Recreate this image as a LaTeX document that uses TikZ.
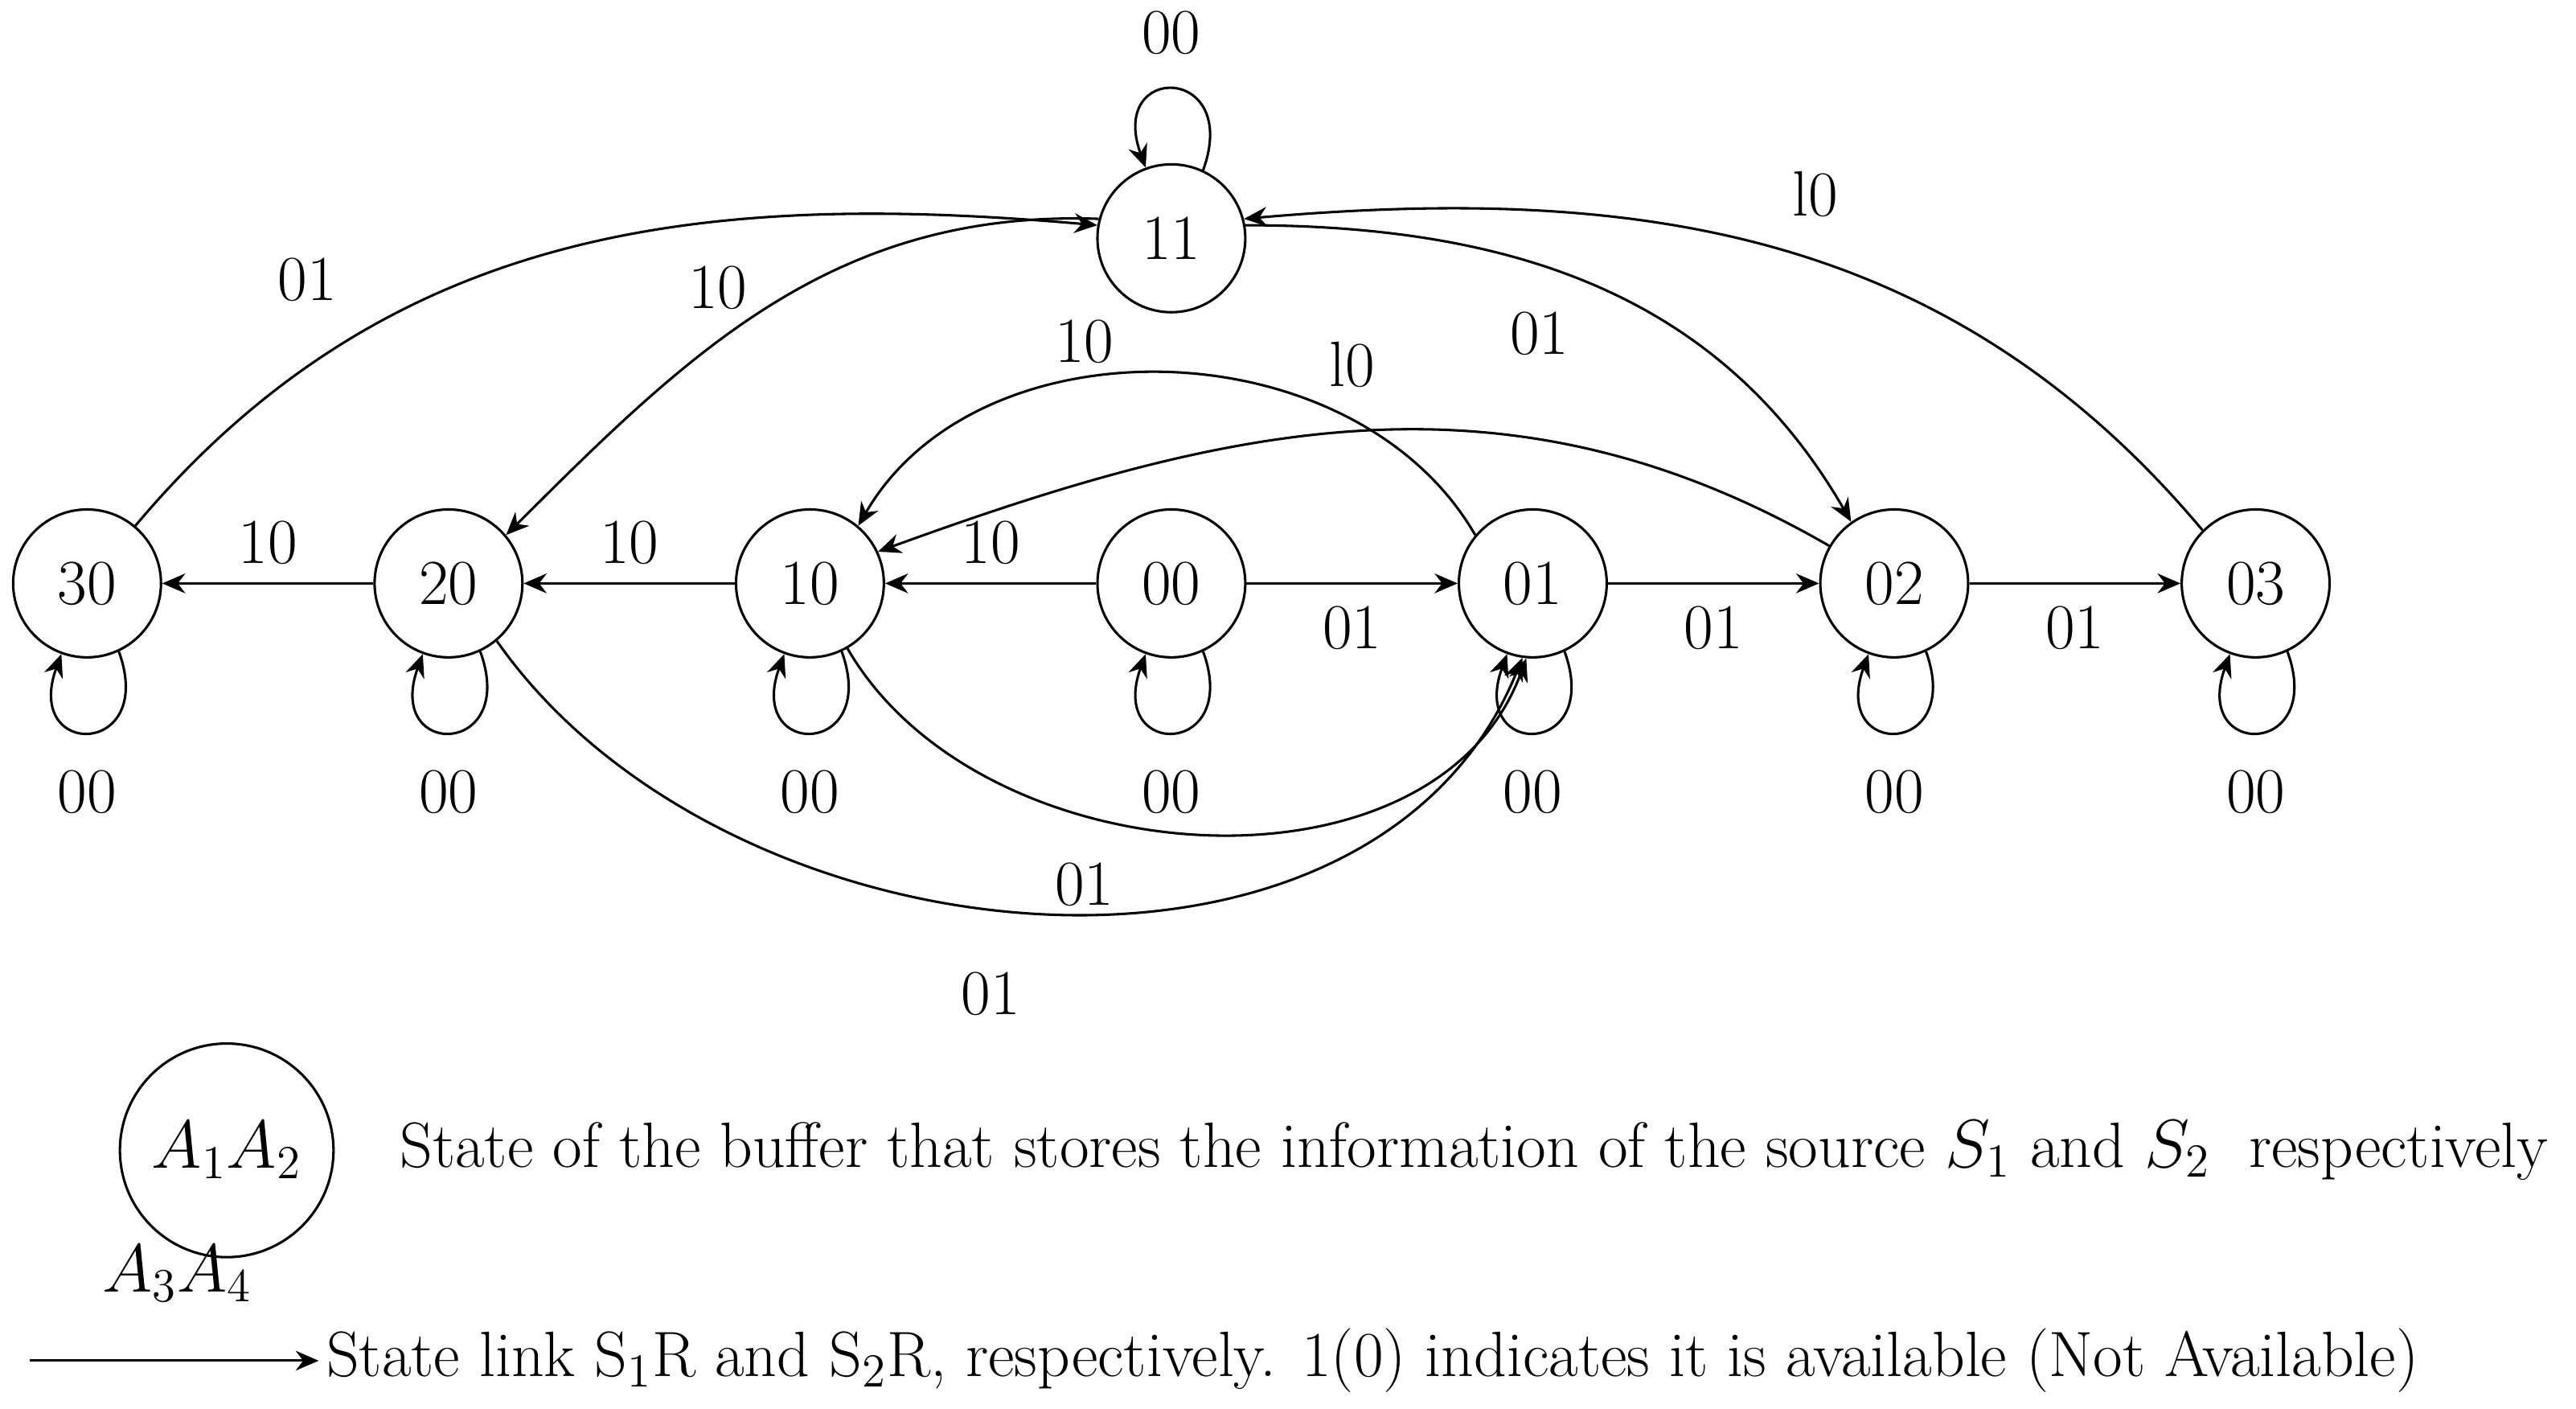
\documentclass[tikz,border=0pt]{standalone}
\usetikzlibrary{arrows.meta}
\begin{document}
\tikzset{every picture/.style={line width=0.75pt}}
\tikzset{st/.style={draw,circle,minimum size=45pt,inner sep=0pt,font=\fontsize{19.5}{23}\selectfont},
  lb/.style={font=\fontsize{19.5}{23}\selectfont},
  ed/.style={-{Stealth[length=7pt,width=6pt]}},
  lp/.style={ed,looseness=5}}
\begin{tikzpicture}[x=0.5pt,y=0.5pt,yscale=-1,xscale=1]
\useasboundingbox (0,0) rectangle (1568,857);
% states
\node[st] (s30) at (53,355) {30};
\node[st] (s20) at (273,355) {20};
\node[st] (s10) at (493,355) {10};
\node[st] (s00) at (713,355) {00};
\node[st] (s01) at (933,355) {01};
\node[st] (s02) at (1153,355) {02};
\node[st] (s03) at (1373,355) {03};
\node[st] (s11) at (713,145) {11};

% straight links
\draw[ed] (s00) -- (s10);
\draw[ed] (s00) -- (s01);
\draw[ed] (s10) -- (s20);
\draw[ed] (s20) -- (s30);
\draw[ed] (s01) -- (s02);
\draw[ed] (s02) -- (s03);
% self loops
\foreach \s in {s30,s20,s10,s00,s01,s02,s03}
  \draw[lp] (\s.-65) to[out=70,in=110] (\s.-110);
\draw[lp] (s11.65) to[out=-70,in=-110] (s11.110);
% curved links
\draw[ed] (s30.50) to[out=-50,in=-175] (s11.170);
\draw[ed] (s11.165) to[out=-178,in=-45] (s20.40);
\draw[ed] (s11.10) to[out=0,in=-120] (s02.125);
\draw[ed] (s03.135) to[out=-130,in=-5] (s11.15);
\draw[ed] (s01.140) to[out=-120,in=-60] (s10.50);
\draw[ed] (s02.150) to[out=-150,in=-20] (s10.25);
\draw[ed] (s10.-60) to[out=60,in=110] (s01.-95);
\draw[ed] (s20.-50) to[out=55,in=112] (s01.-98);

% labels
\node[lb] (l1) at (603,330) {10};
\node[lb] (l2) at (823,382) {01};
\node[lb] (l3) at (383,330) {10};
\node[lb] (l4) at (163,330) {10};
\node[lb] (l5) at (1043,382) {01};
\node[lb] (l6) at (1263,382) {01};
\foreach \x in {53,273,493,713,933,1153,1373}
  \node[lb] at (\x,482) {00};
\node[lb] (l7) at (713,20) {00};
\node[lb] (l8) at (187,170) {01};
\node[lb] (l9) at (437,175) {10};
\node[lb] (l10) at (937,203) {01};
\node[lb] (l11) at (1105,118) {l0};
\node[lb] (l12) at (660,208) {10};
\node[lb] (l13) at (823,222) {l0};
\node[lb] (l14) at (660,538) {01};
\node[lb] (l15) at (603,605) {01};

% legend
\node[st,minimum size=65pt] (key) at (138,700) {$A_1A_2$};
\node[lb] (keyb) at (108,775) {$A_3A_4$};
\node[lb,anchor=west] (keyt) at (236,700) {State of the buffer that stores the information of the source $S_1$ and $S_2$\ \ respectively};
\coordinate (ka) at (18,828);
\node[lb,anchor=west,inner sep=2pt] (keyl) at (194,828) {State link S$_1$R and S$_2$R, respectively. 1(0) indicates it is available (Not Available)};
\draw[ed] (ka) -- (keyl.west);
\end{tikzpicture}
\end{document}
